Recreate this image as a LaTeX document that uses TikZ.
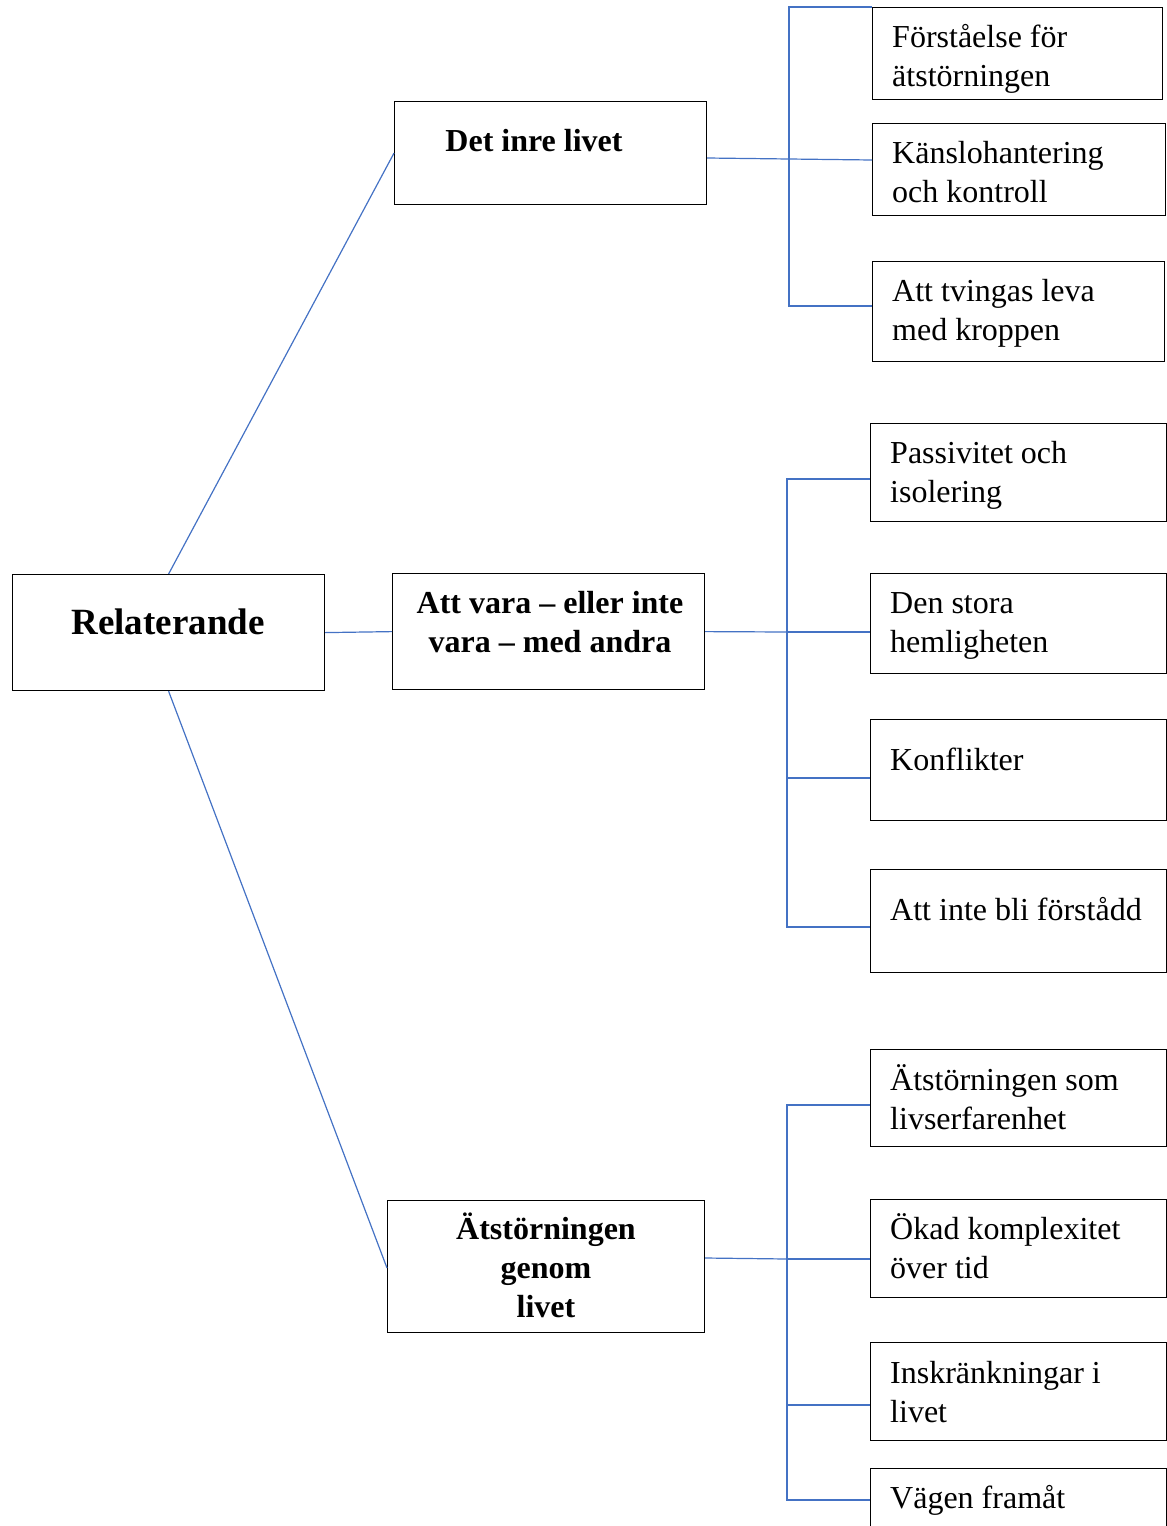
\documentclass[tikz,border=0pt]{standalone}
\usepackage{fontspec}
\setmainfont{Liberation Serif}
\usetikzlibrary{calc}
\definecolor{linkblue}{HTML}{4472C4}
\tikzset{
  box/.style={draw=black, line width=1.2pt, rectangle, inner sep=0pt, anchor=north west},
  conn/.style={draw=linkblue, line width=1.2pt},
  lbl/.style={inner sep=0pt, anchor=base west, font=\fontsize{32}{39}\selectfont},
  hdr/.style={inner sep=0pt, anchor=base, font=\fontsize{32}{39}\selectfont\bfseries},
}
\newcommand{\lefttext}[1]{\parbox[t]{270pt}{\raggedright #1}}
\newcommand{\midtext}[1]{\parbox[t]{300pt}{\centering #1}}
\begin{document}
\begin{tikzpicture}[x=1pt,y=-1pt]
\useasboundingbox (0,0) rectangle (1167,1526);
\clip (0,0) rectangle (1167,1526);

% main boxes
\node[box, minimum width=312pt, minimum height=116pt] (rel) at (12,574) {};
\node[box, minimum width=312pt, minimum height=103pt] (det) at (394,101) {};
\node[box, minimum width=312pt, minimum height=116pt] (att) at (392,573) {};
\node[box, minimum width=317pt, minimum height=132pt] (ats) at (387,1200) {};

% right boxes
\node[box, minimum width=290pt, minimum height=92pt] (r1) at (872,7) {};
\node[box, minimum width=293pt, minimum height=92pt] (r2) at (872,123) {};
\node[box, minimum width=292pt, minimum height=100pt] (r3) at (872,261) {};
\node[box, minimum width=296pt, minimum height=98pt] (r4) at (870,423) {};
\node[box, minimum width=296pt, minimum height=100pt] (r5) at (870,573) {};
\node[box, minimum width=296pt, minimum height=101pt] (r6) at (870,719) {};
\node[box, minimum width=296pt, minimum height=103pt] (r7) at (870,869) {};
\node[box, minimum width=296pt, minimum height=97pt] (r8) at (870,1049) {};
\node[box, minimum width=296pt, minimum height=98pt] (r9) at (870,1199) {};
\node[box, minimum width=296pt, minimum height=98pt] (r10) at (870,1342) {};
\node[box, minimum width=296pt, minimum height=80pt] (r11) at (870,1468) {};

% header texts
\node[hdr, font=\fontsize{37}{44}\selectfont\bfseries] (relt) at (168,634) {Relaterande};
\node[hdr] (dett) at (534,151) {Det inre livet};
\node[hdr] (attt) at (550,613) {\midtext{Att vara -- eller inte\\vara -- med andra}};
\node[hdr] (atst) at (546,1239) {\midtext{Ätstörningen\\genom\\livet}};

% right texts
\node[lbl] (t1) at (892,47) {\lefttext{Förståelse för\\ätstörningen}};
\node[lbl] (t2) at (892,163) {\lefttext{Känslohantering\\och kontroll}};
\node[lbl] (t3) at (892,301) {\lefttext{Att tvingas leva\\med kroppen}};
\node[lbl] (t4) at (890,463) {\lefttext{Passivitet och\\isolering}};
\node[lbl] (t5) at (890,613) {\lefttext{Den stora\\hemligheten}};
\node[lbl] (t6) at (890,770) {\lefttext{Konflikter}};
\node[lbl] (t7) at (890,920) {\lefttext{Att inte bli förstådd}};
\node[lbl] (t8) at (890,1090) {\lefttext{Ätstörningen som\\livserfarenhet}};
\node[lbl] (t9) at (890,1239) {\lefttext{Ökad komplexitet\\över tid}};
\node[lbl] (t10) at (890,1383) {\lefttext{Inskränkningar i\\livet}};
\node[lbl] (t11) at (890,1508) {\lefttext{Vägen framåt}};

% connectors from the root
\draw[conn] (rel.north) -- (det.west);
\draw[conn] (rel.east) -- (att.west);
\draw[conn] (rel.south) -- ($(ats.north west)+(0,68)$);

% bus 1
\coordinate (b1) at (789,159);
\draw[conn] ($(det.north east)+(0,57)$) -- (b1);
\draw[conn] (r1.north west) -| (b1) |- ($(r3.north west)+(0,45)$);
\draw[conn] (b1) -- ($(r2.north west)+(0,37)$);

% bus 2
\coordinate (b2) at (787,632);
\coordinate (r6in) at ($(r6.north west)+(0,59)$);
\draw[conn] (att.east) -- (b2);
\draw[conn] ($(r4.north west)+(0,56)$) -| (b2) |- ($(r7.north west)+(0,58)$);
\draw[conn] (b2) -- ($(r5.north west)+(0,59)$);
\draw[conn] (r6in -| b2) -- (r6in);

% bus 3
\coordinate (b3) at (787,1259);
\coordinate (r10in) at ($(r10.north west)+(0,63)$);
\draw[conn] ($(ats.north east)+(0,58)$) -- (b3);
\draw[conn] ($(r8.north west)+(0,56)$) -| (b3) |- ($(r11.north west)+(0,32)$);
\draw[conn] (b3) -- ($(r9.north west)+(0,60)$);
\draw[conn] (r10in -| b3) -- (r10in);
\end{tikzpicture}
\end{document}
